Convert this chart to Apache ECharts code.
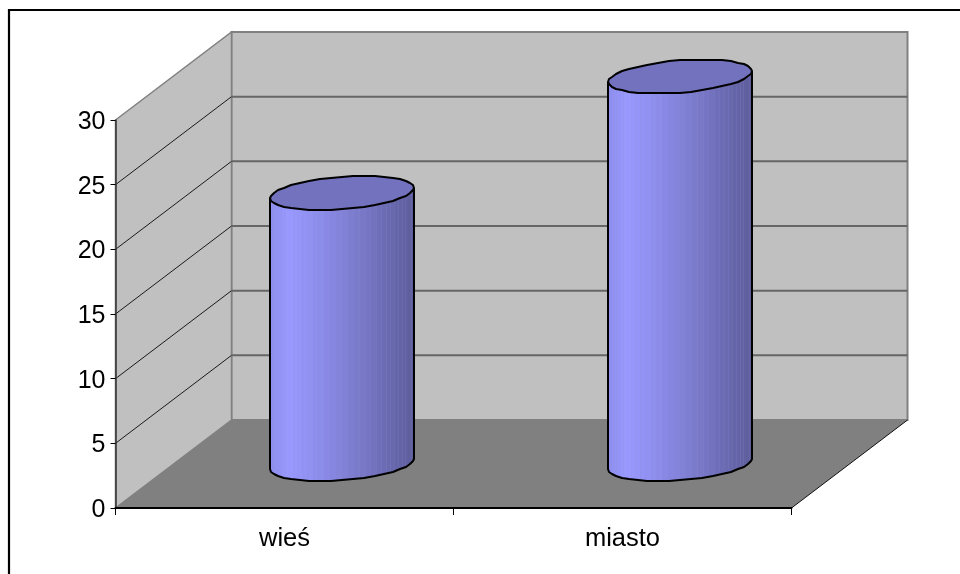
<!DOCTYPE html>
<html>
<head>
<meta charset="utf-8">
<style>
  html, body { margin: 0; padding: 0; background: #fff; }
  #chart { width: 960px; height: 574px; }
</style>
<script src="https://cdn.jsdelivr.net/npm/echarts@6/dist/echarts.min.js"></script>
</head>
<body>
<div id="chart"></div>
<script>
// Residents by place of living, drawn as an oblique 3D cylinder column chart.
const categories = ['wieś', 'miasto'];
const seriesValues = [21, 30];
const valueTicks = [0, 5, 10, 15, 20, 25, 30];

// Oblique depth of the chart box, in pixels.
const DEPTH_X = 116;
const DEPTH_Y = 88;
// Half-axes of the projected cylinder cross-section.
const RADIUS_FRONT = 68.4;
const RADIUS_DEPTH_X = 22.4;
const RADIUS_DEPTH_Y = 17;
const SKEW = Math.atan2(RADIUS_DEPTH_X, RADIUS_FRONT);

const COLORS = {
  wall: '#c0c0c0', wallEdge: '#808080', floor: '#808080',
  backGrid: '#666666', sideGrid: '#1a1a1a', top: '#7272be', bodyBacking: '#8c8cd6'
};

function rimPoint(cx, cy, t, snap) {
  const x = cx + RADIUS_FRONT * Math.cos(t) + RADIUS_DEPTH_X * Math.sin(t);
  const y = cy - RADIUS_DEPTH_Y * Math.sin(t);
  return snap ? [Math.round(x), Math.round(y)] : [x, y];
}

// Shade of a body facet by its position across the front (0 = left, 1 = right).
function facetColor(u) {
  const peak = 0.13;
  const k = u < peak ? 0.93 + 0.07 * (u / peak) : 1 - 0.4 * Math.pow((u - peak) / (1 - peak), 1.15);
  return 'rgb(' + Math.round(153 * k) + ',' + Math.round(153 * k) + ',' + Math.round(255 * k) + ')';
}

function renderBox(params, api) {
  const x0 = params.coordSys.x, w = params.coordSys.width;
  const yBase = api.coord([0, 0])[1];
  const yTop = api.coord([0, 30])[1];
  const children = [];
  // Back wall, side wall and floor.
  children.push({ type: 'polygon', shape: { points: [[x0 + DEPTH_X, yTop - DEPTH_Y], [x0 + w + DEPTH_X, yTop - DEPTH_Y], [x0 + w + DEPTH_X, yBase - DEPTH_Y], [x0 + DEPTH_X, yBase - DEPTH_Y]] },
    style: { fill: COLORS.wall, stroke: COLORS.wallEdge, lineWidth: 2 } });
  children.push({ type: 'polygon', shape: { points: [[x0, yTop], [x0 + DEPTH_X, yTop - DEPTH_Y], [x0 + DEPTH_X, yBase - DEPTH_Y], [x0, yBase]] },
    style: { fill: COLORS.wall, stroke: COLORS.wallEdge, lineWidth: 1.5 } });
  // Gridlines across both walls.
  valueTicks.slice(1, -1).forEach(function (v) {
    const y = api.coord([0, v])[1];
    children.push({ type: 'line', shape: { x1: x0, y1: y, x2: x0 + DEPTH_X, y2: y - DEPTH_Y }, style: { stroke: COLORS.sideGrid, lineWidth: 1 } });
    children.push({ type: 'line', shape: { x1: x0 + DEPTH_X, y1: y - DEPTH_Y, x2: x0 + w + DEPTH_X, y2: y - DEPTH_Y }, style: { stroke: COLORS.backGrid, lineWidth: 2 } });
  });
  children.push({ type: 'polygon', shape: { points: [[x0, yBase], [x0 + w, yBase], [x0 + w + DEPTH_X, yBase - DEPTH_Y], [x0 + DEPTH_X, yBase - DEPTH_Y]] },
    style: { fill: COLORS.floor } });
  children.push({ type: 'line', shape: { x1: x0 + w, y1: yBase, x2: x0 + w + DEPTH_X, y2: yBase - DEPTH_Y }, style: { stroke: '#111', lineWidth: 1 } });
  return { type: 'group', children: children };
}

function renderCylinder(params, api) {
  const base = api.coord([api.value(0), 0]);
  const head = api.coord([api.value(0), api.value(1)]);
  const cx = base[0] + DEPTH_X / 2 - 0.5;
  const yb = base[1] - DEPTH_Y / 2;
  const yt = head[1] - DEPTH_Y / 2 + 0.5;
  const left = Math.PI + SKEW;
  const children = [];
  const facets = 38;
  // Solid backing keeps the seams between facets faint.
  const backing = [];
  for (let i = 0; i <= facets; i++) backing.push(rimPoint(cx, yb, left + Math.PI * i / facets));
  for (let i = facets; i >= 0; i--) backing.push(rimPoint(cx, yt, left + Math.PI * i / facets));
  children.push({ type: 'polygon', shape: { points: backing }, style: { fill: COLORS.bodyBacking } });
  // Body facets, each bounded by the lower rim and the top rim.
  for (let i = 0; i < facets; i++) {
    const a = left + Math.PI * i / facets;
    const b = left + Math.PI * (i + 1) / facets;
    const pa = rimPoint(cx, yb, a), pb = rimPoint(cx, yb, b);
    const ta = rimPoint(cx, yt, a), tb = rimPoint(cx, yt, b);
    const u = ((pa[0] + pb[0]) / 2 - (cx - 72)) / 144;
    children.push({ type: 'polygon', shape: { points: [ta, tb, pb, pa] }, style: { fill: facetColor(u) } });
  }
  // Outline of the body: sides and lower rim.
  const segs = 20;
  const outline = [rimPoint(cx, yt, left, true)];
  for (let i = 0; i <= segs; i++) {
    outline.push(rimPoint(cx, yb, left + Math.PI * i / segs, true));
  }
  outline.push(rimPoint(cx, yt, left + Math.PI, true));
  children.push({ type: 'polyline', shape: { points: outline }, style: { fill: 'none', stroke: '#000', lineWidth: 2, lineJoin: 'round' } });
  // Top face.
  const rim = [];
  for (let i = 0; i < segs * 2; i++) {
    rim.push(rimPoint(cx, yt, left + Math.PI * i / segs, true));
  }
  children.push({ type: 'polygon', shape: { points: rim }, style: { fill: COLORS.top, stroke: '#000', lineWidth: 2, lineJoin: 'round' } });
  return { type: 'group', children: children };
}

const chart = echarts.init(document.getElementById('chart'), null, { renderer: 'canvas' });
chart.setOption({
  animation: false,
  backgroundColor: '#ffffff',
  textStyle: { fontFamily: '"Liberation Sans", Arial, sans-serif' },
  grid: { left: 115.5, top: 120, width: 676, height: 388 },
  xAxis: {
    type: 'category',
    data: categories,
    z: 4,
    axisLine: { onZero: false, lineStyle: { color: '#000', width: 2 } },
    axisTick: { show: true, length: 7, lineStyle: { color: '#000', width: 1 } },
    axisLabel: { color: '#000', fontSize: 25.5, margin: 18 },
    splitLine: { show: false }
  },
  yAxis: {
    type: 'value',
    min: 0,
    max: 30,
    interval: 5,
    z: 4,
    axisLine: { show: true, lineStyle: { color: '#333', width: 1.5 } },
    axisTick: { show: true, length: 5, lineStyle: { color: '#000', width: 1 } },
    axisLabel: {
      color: '#000', margin: 10,
      formatter: '{n|{value}}',
      rich: { n: { color: '#000', fontSize: 25, fontFamily: '"Liberation Sans", Arial, sans-serif', padding: [4, 0, 0, 0] } }
    },
    splitLine: { show: false }
  },
  series: [
    { type: 'custom', name: 'box', z: 1, silent: true, clip: false, data: [[0, 0]], renderItem: renderBox },
    {
      type: 'custom', name: 'wartość', z: 5, clip: false,
      data: categories.map(function (c, i) { return [i, seriesValues[i]]; }),
      encode: { x: 0, y: 1 },
      renderItem: renderCylinder
    }
  ],
  graphic: [
    { type: 'line', z: 10, shape: { x1: 9, y1: 10, x2: 960, y2: 10 }, style: { stroke: '#000', lineWidth: 2.2 } },
    { type: 'line', z: 10, shape: { x1: 9, y1: 9, x2: 9, y2: 574 }, style: { stroke: '#000', lineWidth: 2.2 } }
  ]
});
</script>
</body>
</html>
